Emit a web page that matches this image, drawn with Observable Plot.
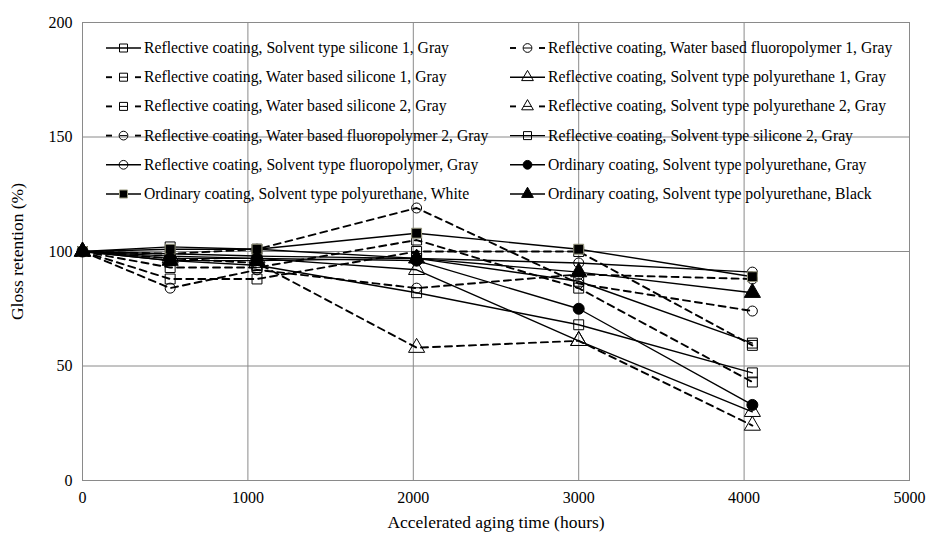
<!DOCTYPE html>
<html><head><meta charset="utf-8">
<script src="https://cdn.jsdelivr.net/npm/d3@7"></script>
<script src="https://cdn.jsdelivr.net/npm/@observablehq/plot@0.6"></script>
<style>
body{margin:0;background:#fff}
svg, svg text { font-family: "Liberation Serif", "Times New Roman", Times, "DejaVu Serif", serif !important; }
</style>
</head><body><div id="chart"></div>
<script>
// ---- data ----
const hours = [0, 530, 1055, 2020, 3000, 4050];
const xTicks = [0, 1000, 2000, 3000, 4000, 5000];
const yTicks = [0, 50, 100, 150, 200];
const seriesNames = [
  "Reflective coating, Solvent type silicone 1, Gray",
  "Reflective coating, Water based silicone 1, Gray",
  "Reflective coating, Water based silicone 2, Gray",
  "Reflective coating, Water based fluoropolymer 2, Gray",
  "Reflective coating, Solvent type fluoropolymer, Gray",
  "Ordinary coating, Solvent type polyurethane, White",
  "Reflective coating, Water based fluoropolymer 1, Gray",
  "Reflective coating, Solvent type polyurethane 1, Gray",
  "Reflective coating, Solvent type polyurethane 2, Gray",
  "Reflective coating, Solvent type silicone 2, Gray",
  "Ordinary coating, Solvent type polyurethane, Gray",
  "Ordinary coating, Solvent type polyurethane, Black"
];
const solventSilicone1 = [100, 102, 101, 97, 87, 60];
const waterSilicone1 = [100, 93, 93, 105, 84, 43];
const waterSilicone2 = [100, 88, 88, 100, 100, 59];
const waterFluoro2 = [100, 84, 92, 84, 90, 88];
const solventFluoro = [100, 99, 98, 97, 95, 91];
const ordinaryWhite = [100, 101, 101, 108, 101, 89];
const waterFluoro1 = [100, 99, 101, 119, 86, 74];
const solventPU1 = [100, 98, 97, 92, 61, 30];
const solventPU2 = [100, 97, 95, 58, 61, 24];
const solventSilicone2 = [100, 96, 94, 82, 68, 47];
const ordinaryGray = [100, 97, 97, 96, 75, 33];
const ordinaryBlack = [100, 96, 96, 97, 91, 82];
const seriesValues = [solventSilicone1, waterSilicone1, waterSilicone2, waterFluoro2, solventFluoro, ordinaryWhite,
  waterFluoro1, solventPU1, solventPU2, solventSilicone2, ordinaryGray, ordinaryBlack];

// ---- styles (separate from data) ----
const dashedSet = new Set([1, 2, 3, 6, 8]);
const markerOf = ["sqOpen","sqOpen","sqOpen","circOpen","circOpen","sqFill","circOpen","triOpen","triOpen","sqOpen","circFill","triFill"];

const rows = [];
seriesNames.forEach((s, i) => hours.forEach((h, j) => rows.push({series: s, idx: i, hours: h, value: seriesValues[i][j]})));

const font = "Liberation Serif, Times New Roman, serif";
const solid = rows.filter(d => !dashedSet.has(d.idx));
const dashed = rows.filter(d => dashedSet.has(d.idx));
const byMarker = m => rows.filter(d => markerOf[d.idx] === m);

const plot = Plot.plot({
  width: 932, height: 536,
  marginLeft: 82, marginRight: 23, marginTop: 22, marginBottom: 56,
  style: {fontFamily: font, fontSize: "15px", color: "#000", background: "#fff"},
  x: {domain: [0, 5000]},
  y: {domain: [0, 200]},
  marks: [
    Plot.gridX(xTicks, {stroke: "#8a8a8a", strokeOpacity: 1, strokeWidth: 1}),
    Plot.gridY(yTicks, {stroke: "#8a8a8a", strokeOpacity: 1, strokeWidth: 1}),
    Plot.frame({stroke: "#8a8a8a"}),
    Plot.axisX(xTicks, {tickSize: 0, tickPadding: 11, tickFormat: d3.format("d"), fontSize: 16,
      label: "Accelerated aging time (hours)", labelAnchor: "center", labelArrow: "none", labelOffset: 47}),
    Plot.axisY(yTicks, {tickSize: 0, tickPadding: 10, tickFormat: d3.format("d"), fontSize: 16,
      label: "Gloss retention (%)", labelAnchor: "center", labelArrow: "none", labelOffset: 72}),
    Plot.line(solid, {x: "hours", y: "value", z: "series", stroke: "#000", strokeWidth: 1.4}),
    Plot.line(dashed, {x: "hours", y: "value", z: "series", stroke: "#000", strokeWidth: 1.9, strokeDasharray: "7,5"}),
    Plot.dot(byMarker("sqOpen"), {x: "hours", y: "value", symbol: "square", r: 5.6, stroke: "#000", fill: "none", strokeWidth: 1}),
    Plot.dot(byMarker("circOpen"), {x: "hours", y: "value", symbol: "circle", r: 5, stroke: "#000", fill: "none", strokeWidth: 1}),
    Plot.dot(byMarker("triOpen"), {x: "hours", y: "value", symbol: "triangle", r: 6, stroke: "#000", fill: "none", strokeWidth: 1}),
    Plot.dot(byMarker("sqFill"), {x: "hours", y: "value", symbol: "square", r: 5.6, stroke: "#9a9a80", fill: "#000", strokeWidth: 1}),
    Plot.dot(byMarker("circFill"), {x: "hours", y: "value", symbol: "circle", r: 5.5, stroke: "#000", fill: "#000", strokeWidth: 1}),
    Plot.dot(byMarker("triFill"), {x: "hours", y: "value", symbol: "triangle", r: 6, stroke: "#000", fill: "#000", strokeWidth: 1})
  ]
});

const svg = d3.select(plot);
svg.selectAll('[aria-label="x-axis label"] text, [aria-label="y-axis label"] text').style("font-size", "17.5px");

// ---- legend ----
const leg = svg.append("g").attr("font-size", 15.7).attr("text-anchor", "start").attr("fill", "#000");
const symType = {sqOpen: d3.symbolSquare, sqFill: d3.symbolSquare, circOpen: d3.symbolCircle, circFill: d3.symbolCircle, triOpen: d3.symbolTriangle, triFill: d3.symbolTriangle};
seriesNames.forEach((name, i) => {
  const col = i < 6 ? 0 : 1;
  const row = i % 6;
  const x0 = col === 0 ? 106 : 510;
  const x1 = x0 + 35;
  const cx = (x0 + x1) / 2;
  const y = 48 + row * 29.2;
  const g = leg.append("g");
  if (dashedSet.has(i)) {
    g.append("line").attr("x1", x0).attr("x2", x0 + 6).attr("y1", y).attr("y2", y).attr("stroke", "#000").attr("stroke-width", 1.9);
    g.append("line").attr("x1", cx - 4).attr("x2", cx + 4).attr("y1", y).attr("y2", y).attr("stroke", "#000").attr("stroke-width", 1);
    g.append("line").attr("x1", x1 - 6).attr("x2", x1).attr("y1", y).attr("y2", y).attr("stroke", "#000").attr("stroke-width", 1.9);
  } else {
    g.append("line").attr("x1", x0).attr("x2", x1).attr("y1", y).attr("y2", y).attr("stroke", "#000").attr("stroke-width", 1.4);
  }
  const m = markerOf[i];
  const filled = m.endsWith("Fill");
  g.append("path").attr("transform", `translate(${cx},${y})`)
    .attr("d", d3.symbol(symType[m], m.startsWith("sq") ? 64 : 60)())
    .attr("fill", filled ? "#000" : "none")
    .attr("stroke", m === "sqFill" ? "#9a9a80" : "#000").attr("stroke-width", 1);
  g.append("text").attr("x", x1 + 3).attr("y", y).attr("dy", "0.32em").attr("text-anchor", "start").text(name);
});

document.getElementById("chart").appendChild(plot);
</script>
</body></html>
